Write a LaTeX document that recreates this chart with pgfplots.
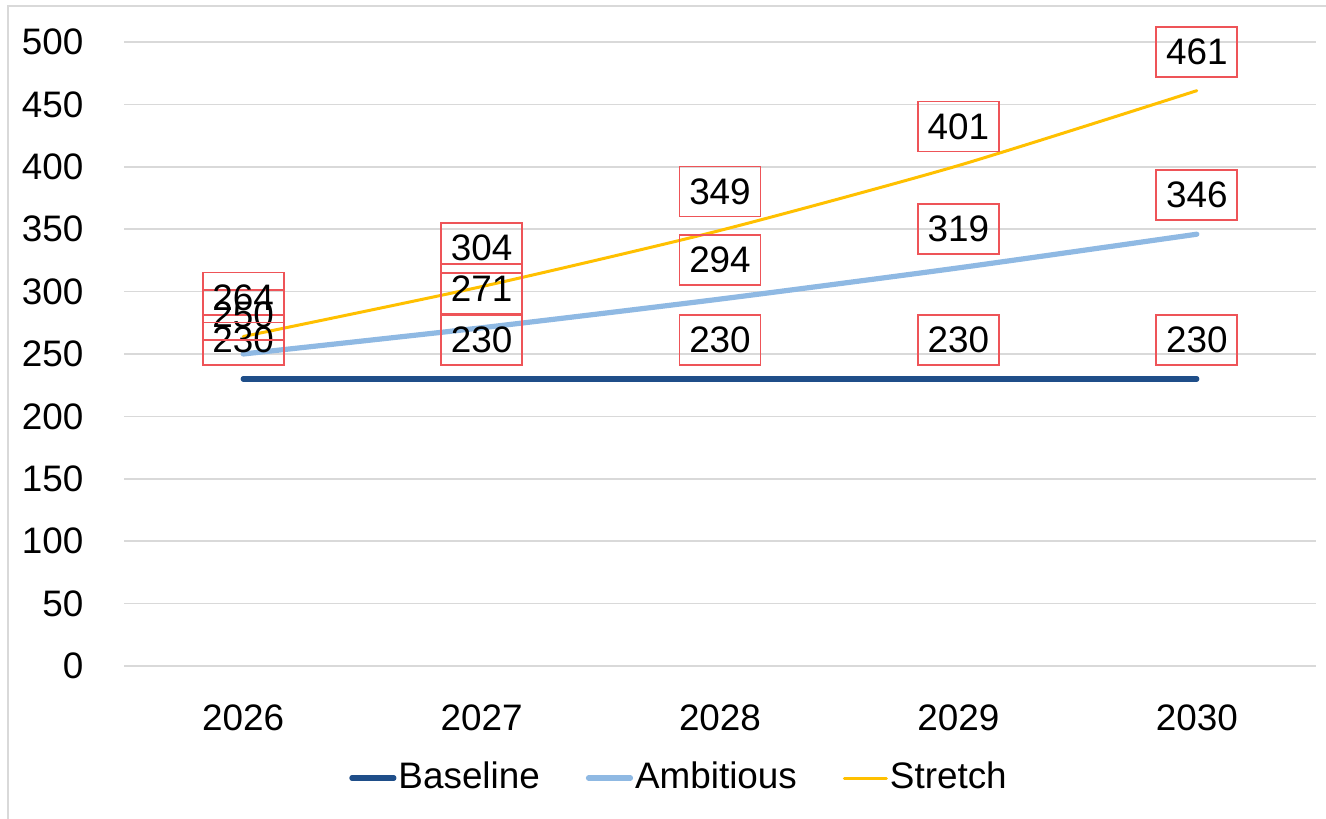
\documentclass[border=0pt]{standalone}
\usepackage{fontspec}
\setmainfont{Liberation Sans}
\usepackage{pgfplots}
\pgfplotsset{compat=1.18}

\definecolor{basecol}{RGB}{31,78,137}
\definecolor{ambcol}{RGB}{143,185,227}
\definecolor{stretchcol}{RGB}{255,192,0}
\definecolor{gridgray}{RGB}{217,217,217}
\definecolor{labelred}{RGB}{238,84,88}
\definecolor{framegray}{RGB}{217,217,217}

\begin{document}
\fontsize{18.5}{22}\selectfont
\begin{tikzpicture}
\path[use as bounding box] (0,0) rectangle (663bp,409.5bp);
\draw[framegray, line width=1bp] (3.75bp,0) -- (3.75bp,406.25bp) -- (663bp,406.25bp);
\begin{axis}[
  at={(62bp,76.5bp)}, anchor=south west,
  scale only axis,
  width=596bp, height=312bp,
  xmin=2025.5, xmax=2030.5,
  ymin=0, ymax=500,
  xtick={2026,2027,2028,2029,2030},
  xticklabels={2026,2027,2028,2029,2030},
  ytick={0,50,...,500},
  /pgf/number format/assume math mode=true,
  /pgf/number format/1000 sep={},
  ymajorgrids,
  grid style={gridgray, line width=0.8bp},
  axis line style={draw=none},
  major tick length=0pt,
  tick label style={font=\fontsize{18.5}{22}\selectfont},
  yticklabel style={xshift=-14bp},
  xticklabel style={yshift=-13bp},
  nodes near coords,
  every node near coord/.style={
    draw=labelred, line width=0.9bp, text=black,
    font=\fontsize{18.5}{22}\selectfont,
    minimum width=40.5bp, minimum height=25bp, inner sep=0pt,
    anchor=center, yshift=19.5bp},
  legend columns=3,
  legend style={at={(0.4656,-0.1795)}, anchor=center, draw=none, fill=none,
    font=\fontsize{18.5}{22}\selectfont,
    /tikz/every even column/.append style={column sep=22bp},
    nodes={inner sep=1bp}},
  legend image code/.code={\draw[#1] (0bp,0bp) -- (21bp,0bp);},
  legend cell align=left,
]
\addplot[basecol, line width=2.6bp, line cap=round] coordinates {
  (2026,230) (2027,230) (2028,230) (2029,230) (2030,230)};
\addlegendentry{Baseline}
\addplot[ambcol, line width=2.6bp, line cap=round, smooth, tension=0.4] coordinates {
  (2026,250) (2027,271) (2028,294) (2029,319) (2030,346)};
\addlegendentry{Ambitious}
\addplot[stretchcol, line width=1.5bp, line cap=round, smooth, tension=0.4] coordinates {
  (2026,264) (2027,304) (2028,349) (2029,401) (2030,461)};
\addlegendentry{Stretch}
\end{axis}
\end{tikzpicture}
\end{document}
